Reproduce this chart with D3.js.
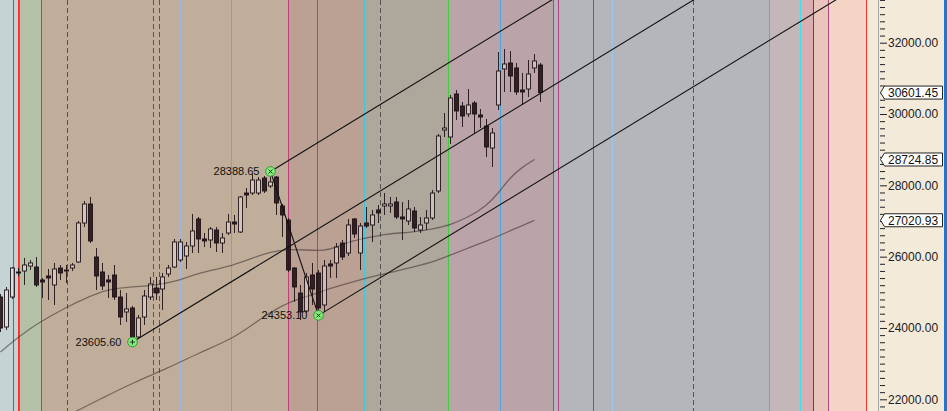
<!DOCTYPE html>
<html>
<head>
<meta charset="utf-8">
<script src="https://cdn.jsdelivr.net/npm/d3@7"></script>
<style>
  body { margin: 0; overflow: hidden; background: #f3ead9; }
  text { font-family: "Liberation Sans", Arial, sans-serif; }
</style>
</head>
<body>
<script>
// daily candles, bar index 0..90
var opens  = [24869,24028,24869,25570,25598,25738,25710,25346,25458,25206,25682,25626,25682,25851,26944,27477,25991,25570,25346,25486,
              24869,24449,24561,23748,24308,24869,25122,25093,25514,25710,25907,26019,26299,27057,26496,26468,26748,26383,26664,26972,
              26692,27785,27785,27785,28206,27982,28234,27421,27028,25682,24981,24477,25486,25542,24645,25795,25823,26383,26103,27057,
              26103,26944,26888,27309,27421,27421,27533,27113,27000,27281,26748,26944,27085,27842,29552,29356,30562,30225,30001,30309,
              29973,29664,29047,30253,31263,31431,31291,30674,30702,31291,31375];
var highs  = [24953,25150,25710,25682,25963,25907,25991,25402,25654,25823,25766,25766,25823,27000,27561,27673,26243,25823,25486,25766,
              25065,24981,24617,24364,25065,25430,25430,25542,25766,26496,26496,26411,27197,27113,26664,26832,26832,26664,27197,27169,
              27701,27926,28318,28234,28262,28388.65,28262,27477,27085,25710,25206,25542,25823,25626,25907,25907,26383,26468,27057,27085,
              26944,27393,27309,27449,27785,27673,27673,27533,27589,27393,27113,27309,27870,29440,30029,30534,30674,30337,30702,30365,
              30141,29861,29608,31739,31823,31767,31431,31150,31515,31683,31431];
var lows   = [23888,23944,24813,25458,25206,25626,25150,24841,24785,24645,25346,25262,25598,25823,26832,26383,25065,25065,24841,24785,
              24084,24168,23605.6,23692,24084,24785,24785,24505,25430,25682,25851,25654,26103,26103,26271,26243,26131,26103,26608,26664,
              26664,27365,27729,27729,27785,27926,27169,26552,25570,24729,24224,24420,24645,24353.1,24449,25402,25402,25907,26019,26524,
              25626,26804,26411,26944,27169,27225,27057,26468,26888,26692,26664,26748,27028,27785,29356,29160,29833,29636,29917,29468,
              29608,28795,28515,30113,30618,30618,30534,30253,30478,31150,30337];
var closes = [24000,25065,25682,25542,25766,25823,25206,25290,25402,25654,25542,25598,25766,26944,27477,26440,25458,25178,25290,24869,
              24308,24533,23748,24280,24897,25234,24981,25430,25682,26411,26411,26299,26720,26496,26440,26776,26383,26524,26972,26916,
              27673,27729,28150,28150,27842,28094,27505,27169,25626,25150,24449,25430,25093,24561,25738,25738,26271,25991,26888,26636,
              26860,26860,27169,27225,27477,27477,27113,27057,27337,26804,26888,27085,27785,29384,29608,30449,30085,29945,30253,30001,
              29917,29075,29468,31206,31403,31066,30618,30618,31122,31487,30601.45];

// moving averages (bar index, value)
var ma1Idx = [0,3,6,11,15,18,22,26,29,33,38,42,45,48,51,54,56,58,61,64,69,72,75,78,81,83,85,87,89];
var ma1    = [23327,23748,24112,24589,24897,25094,25150,25206,25290,25542,25711,25963,26131,26215,26187,26159,26271,26412,
              26524,26636,26692,26776,26888,27113,27421,27786,28234,28515,28724.85];
var ma2Idx = [12,17,22,28,33,39,43,47,50,53,54,58,63,69,73,75,78,81,83,86,89];
var ma2    = [21617,22037,22458,22879,23299,23720,24224,24645,24841,24982,25066,25262,25486,25711,25907,26047,26243,26440,
              26580,26804,27020.93];

// channel lines drawn from the swing points
var swingIdx = [22, 45, 53];
var swingVal = [23605.6, 28388.65, 24353.1];
var swingSym = ['+', 'x', 'x'];
var channelSlope = 102.6;   // points per bar
var channelEnd = 150;

// price tags on the axis
var tagVals = [30601.45, 28724.85, 27020.93];

// background cycle zones (start bar, colour)
var zoneStart = [-5, 2.87, 6.78, 47.95, 60.62, 74.62, 92.12, 128.12, 133.28, 135.45, 137.95, 144.28];
var zoneColor = ['#c5d3d5','#b5c1a6','#c0ae9a','#bba194','#aea79b','#baa3a9','#b5b6bb','#c4b7b9','#d8b0b3','#e9c5bb','#f4d4c4','#f3ead9'];

// cycle lines (bar, colour, dashed)
var cycAt    = [2.03, 2.87, 3.12, 6.78, 11.12, 25.45, 26.45, 29.95, 38.45, 47.95, 52.78, 60.62, 63.28, 74.62, 83.28,
                92.12, 92.95, 98.78, 101.95, 115.45, 128.12, 133.28, 135.45, 137.95, 144.28];
var cycColor = ['#ff2a2a','#ff2a2a','#a05a98','#ff2a2a','#555','#555','#555','#9fb4e6','#5ab4c8','#c0407a','#ff2a2a','#3cc8e0','#555','#3cd03c','#4aa8e0',
                '#ff2a2a','#b0407e','#b84848','#9cc8f0','#555','#58aed6','#3ce0f0','#5a3c90','#b04a80','#ff3030'];
var cycDash  = [0,0,0,0,1,1,1,0,0,0,0,0,1,0,0,0,0,0,0,1,0,0,0,0,0];

var width = 947, height = 411, axisX = 879;

var svg = d3.select('body').append('svg').attr('width', width).attr('height', height);

var x = d3.scaleLinear().domain([0, 145]).range([0.5, 870.5]);
var y = d3.scaleLinear().domain([22000, 32000]).range([399.3, 42.7]);

svg.append('clipPath').attr('id', 'plot').append('rect')
  .attr('x', 0).attr('y', 0).attr('width', axisX).attr('height', height);

var plot = svg.append('g').attr('clip-path', 'url(#plot)');

// zones
plot.selectAll('rect.zone').data(zoneStart).enter().append('rect')
  .attr('class', 'zone')
  .attr('x', function(d){ return x(d); })
  .attr('y', 0)
  .attr('width', function(d, i){ return (i < zoneStart.length - 1 ? x(zoneStart[i+1]) : width) - x(d); })
  .attr('height', height)
  .attr('fill', function(d, i){ return zoneColor[i]; });

// cycle lines
plot.selectAll('line.cyc').data(cycAt).enter().append('line')
  .attr('x1', function(d){ return Math.round(x(d)) + 0.5; })
  .attr('x2', function(d){ return Math.round(x(d)) + 0.5; })
  .attr('y1', 0).attr('y2', height)
  .attr('stroke', function(d, i){ return cycColor[i]; })
  .attr('stroke-width', function(d, i){ return i === 7 ? 2 : 1; })
  .attr('stroke-dasharray', function(d, i){ return cycDash[i] ? '5,3' : null; });

// moving averages
var maLine = d3.line().curve(d3.curveBasis)
  .x(function(d){ return x(d[0]); })
  .y(function(d){ return y(d[1]); });

plot.append('path').datum(d3.zip(ma1Idx, ma1))
  .attr('d', maLine).attr('fill', 'none')
  .attr('stroke', 'rgba(60,45,45,0.55)').attr('stroke-width', 1.3);
plot.append('path').datum(d3.zip(ma2Idx, ma2))
  .attr('d', maLine).attr('fill', 'none')
  .attr('stroke', 'rgba(60,45,45,0.55)').attr('stroke-width', 1.3);

// candles
var bars = d3.range(opens.length).map(function(i){
  return { i: i, o: opens[i], h: highs[i], l: lows[i], c: closes[i] };
});

var ink = 'rgba(28,14,18,0.88)';
var cg = plot.selectAll('g.bar').data(bars).enter().append('g');

cg.append('line')
  .attr('x1', function(d){ return x(d.i); }).attr('x2', function(d){ return x(d.i); })
  .attr('y1', function(d){ return y(d.h); })
  .attr('y2', function(d){ return y(Math.max(d.o, d.c)); })
  .attr('stroke', ink);
cg.append('line')
  .attr('x1', function(d){ return x(d.i); }).attr('x2', function(d){ return x(d.i); })
  .attr('y1', function(d){ return y(Math.min(d.o, d.c)); })
  .attr('y2', function(d){ return y(d.l); })
  .attr('stroke', ink);
cg.append('rect')
  .attr('x', function(d){ return x(d.i) - 2; })
  .attr('width', 4)
  .attr('y', function(d){ return y(Math.max(d.o, d.c)); })
  .attr('height', function(d){ return Math.max(1, y(Math.min(d.o, d.c)) - y(Math.max(d.o, d.c))); })
  .attr('fill', function(d){ return d.c >= d.o ? 'rgba(255,255,255,0.3)' : ink; })
  .attr('stroke', ink);

// channel lines
plot.selectAll('line.chan').data(swingIdx).enter().append('line')
  .attr('x1', function(d){ return x(d); })
  .attr('y1', function(d, i){ return y(swingVal[i]); })
  .attr('x2', x(channelEnd))
  .attr('y2', function(d, i){ return y(swingVal[i] + channelSlope * (channelEnd - d)); })
  .attr('stroke', '#111').attr('stroke-width', 1.1);

// swing from top to bottom
plot.append('line')
  .attr('x1', x(swingIdx[1])).attr('y1', y(swingVal[1]))
  .attr('x2', x(swingIdx[2])).attr('y2', y(swingVal[2]))
  .attr('stroke', '#111').attr('stroke-width', 1.1);

// swing markers + labels
var mk = plot.selectAll('g.mk').data(swingIdx).enter().append('g')
  .attr('transform', function(d, i){ return 'translate(' + x(d) + ',' + y(swingVal[i]) + ')'; });
mk.append('circle').attr('r', 4.8).attr('fill', '#86ec7e').attr('stroke', '#2aa02a');
mk.append('path')
  .attr('d', function(d, i){ return swingSym[i] === '+' ? 'M-2.5,0H2.5M0,-2.5V2.5' : 'M-2,-2L2,2M-2,2L2,-2'; })
  .attr('stroke', '#1c3a1c').attr('stroke-width', 1);
mk.append('text')
  .attr('x', -11).attr('dy', '0.36em')
  .attr('text-anchor', 'end')
  .attr('font-size', 11).attr('fill', '#111')
  .text(function(d, i){ return d3.format('.2f')(swingVal[i]); });

// axis panel
svg.append('rect').attr('x', axisX).attr('y', 0).attr('width', width - axisX).attr('height', height).attr('fill', '#f3ead9');
svg.append('line').attr('x1', axisX - 0.5).attr('x2', axisX - 0.5).attr('y1', 0).attr('y2', height).attr('stroke', '#a8a8a8');

var ax = svg.append('g').attr('transform', 'translate(' + (axisX + 1) + ',0)')
  .call(d3.axisRight(y)
    .tickValues(d3.range(20800, 33201, 200))
    .tickSize(5)
    .tickPadding(3)
    .tickFormat(function(d){ return d % 2000 === 0 ? d3.format('.2f')(d) : ''; }));
ax.select('.domain').remove();
ax.selectAll('.tick line').attr('stroke', '#222')
  .attr('x2', function(d){ return d % 2000 === 0 ? 7 : 5; });
ax.selectAll('.tick text').attr('font-size', 12).attr('fill', '#222')
  .attr('font-family', '"Liberation Sans", Arial, sans-serif').attr('x', 8);

// price tags
var tg = svg.selectAll('g.tag').data(tagVals).enter().append('g')
  .attr('transform', function(d){ return 'translate(0,' + y(d) + ')'; });
tg.append('path')
  .attr('d', 'M880.5,0L884.5,-6.5H942.5V6.5H884.5Z')
  .attr('fill', '#fff').attr('stroke', '#222');
tg.append('text').attr('x', 888).attr('dy', '0.36em')
  .attr('font-size', 12).attr('fill', '#111')
  .text(function(d){ return d3.format('.2f')(d); });

// right frame
svg.append('rect').attr('x', 944).attr('y', 0).attr('width', 3).attr('height', height).attr('fill', '#1e78d2');
</script>
</body>
</html>
